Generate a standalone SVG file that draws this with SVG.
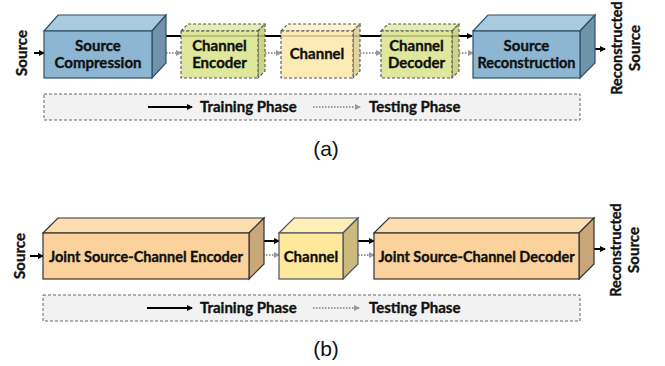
<svg xmlns="http://www.w3.org/2000/svg" width="665" height="366" viewBox="0 0 665 366">
<defs>
<style>
.lbl{font-family:Lato,"Open Sans","Liberation Sans",sans-serif;font-weight:bold;font-size:15px;fill:#111;stroke:#111;stroke-width:0.35;text-anchor:middle}
.lbl.sm{font-size:14.5px}
.leg{font-family:Lato,"Open Sans","Liberation Sans",sans-serif;font-weight:bold;font-size:15px;fill:#111;stroke:#111;stroke-width:0.35}
.cap{font-family:"Liberation Sans",Arial,sans-serif;font-size:21px;fill:#111;text-anchor:middle}
.blue .f{fill:#8cb6d2}.blue .t{fill:#a8cbe0}.blue .s{fill:#6e93ab}
.blue polygon,.blue rect{stroke:#2f4f66;stroke-width:1.2}
.green polygon,.green rect{stroke:#555;stroke-width:1.1;stroke-dasharray:3 2;fill-opacity:0.85}
.green .f{fill:#d8e38a}.green .t{fill:#e2eaa5}.green .s{fill:#c2cd72}
.yel polygon,.yel rect{stroke:#555;stroke-width:1.1;stroke-dasharray:3 2;fill-opacity:0.85}
.yel .f{fill:#fde7a8}.yel .t{fill:#feefc4}.yel .s{fill:#dccb8e}
.org polygon,.org rect{stroke:#333;stroke-width:1.2}
.org .f{fill:#fbd29b}.org .t{fill:#fcddb0}.org .s{fill:#c9a77a}
.chb polygon,.chb rect{stroke:#4a5060;stroke-width:1.2}
.chb .f{fill:#fde89c}.chb .t{fill:#feefb9}.chb .s{fill:#ccb97c}
.train{stroke:#000;stroke-width:2;fill:none;marker-end:url(#ab)}
.test{stroke:#999;stroke-width:2;stroke-dasharray:1.5 1.5;fill:none;marker-end:url(#ag)}
.legbox{fill:#f2f2f2;stroke:#666;stroke-width:1;stroke-dasharray:3 2}
</style>
<marker id="ab" markerWidth="6" markerHeight="6" refX="5" refY="3" orient="auto" markerUnits="userSpaceOnUse"><path d="M0,0 L6,3 L0,6 z" fill="#000"/></marker>
<marker id="ag" markerWidth="6" markerHeight="6" refX="5" refY="3" orient="auto" markerUnits="userSpaceOnUse"><path d="M0,0 L6,3 L0,6 z" fill="#999"/></marker>
</defs>
<rect width="665" height="366" fill="#fff"/>

<!-- (a) -->
<g id="connectors-a">
<line class="train" x1="166" y1="36" x2="472" y2="36"/>
<line class="train" x1="34" y1="53" x2="44" y2="53"/>
<line class="train" x1="588" y1="49" x2="605" y2="49"/>
<line class="test" x1="166" y1="53" x2="181" y2="53"/>
<line class="test" x1="265" y1="53" x2="281" y2="53"/>
<line class="test" x1="360" y1="53" x2="381" y2="53"/>
<line class="test" x1="459" y1="53" x2="473" y2="53"/>
</g>

<g id="source-compression" class="blue">
<polygon class="t" points="44,31 58,15 166,15 152,31"/>
<polygon class="s" points="152,31 166,15 166,63 152,78"/>
<rect class="f" x="44" y="31" width="108" height="47"/>
<text class="lbl" x="98" y="51">Source</text>
<text class="lbl" x="98" y="68">Compression</text>
</g>

<g id="channel-encoder" class="green">
<polygon class="t" points="181,31 188,24 265,24 258,31"/>
<polygon class="s" points="258,31 265,24 265,71 258,78"/>
<rect class="f" x="181" y="31" width="77" height="47"/>
<text class="lbl" x="219.5" y="51">Channel</text>
<text class="lbl" x="219.5" y="68">Encoder</text>
</g>

<g id="channel-a" class="yel">
<polygon class="t" points="281,31 288,24 360,24 353,31"/>
<polygon class="s" points="353,31 360,24 360,71 353,78"/>
<rect class="f" x="281" y="31" width="72" height="47"/>
<text class="lbl" x="317" y="59">Channel</text>
</g>

<g id="channel-decoder" class="green">
<polygon class="t" points="381,31 388,24 459,24 452,31"/>
<polygon class="s" points="452,31 459,24 459,71 452,78"/>
<rect class="f" x="381" y="31" width="71" height="47"/>
<text class="lbl" x="416.5" y="51">Channel</text>
<text class="lbl" x="416.5" y="68">Decoder</text>
</g>

<g id="source-reconstruction" class="blue">
<polygon class="t" points="473,31 488,15 595,15 580,31"/>
<polygon class="s" points="580,31 595,15 595,63 580,78"/>
<rect class="f" x="473" y="31" width="107" height="47"/>
<text class="lbl" x="526.5" y="51">Source</text>
<text class="lbl sm" x="526.5" y="68">Reconstruction</text>
</g>

<g id="source-a-label"><text class="lbl" transform="translate(27,53) rotate(-90)">Source</text></g>
<g id="recon-a-label">
<text class="lbl sm" transform="translate(622,48) rotate(-90)">Reconstructed</text>
<text class="lbl" transform="translate(640,48) rotate(-90)">Source</text>
</g>

<g id="legend-a">
<rect class="legbox" x="44" y="94" width="536" height="26"/>
<line class="train" x1="148" y1="107" x2="192" y2="107"/>
<text class="leg" x="200" y="112">Training Phase</text>
<line class="test" x1="313" y1="107" x2="360" y2="107"/>
<text class="leg" x="369" y="112">Testing Phase</text>
</g>
<text class="cap" x="326" y="156">(a)</text>

<!-- (b) -->
<g id="connectors-b">
<line class="train" x1="30" y1="256" x2="43" y2="256"/>
<line class="train" x1="263" y1="241" x2="279" y2="241"/>
<line class="test" x1="263" y1="255" x2="279" y2="255"/>
<line class="train" x1="352" y1="241" x2="374" y2="241"/>
<line class="test" x1="352" y1="255" x2="374" y2="255"/>
<line class="train" x1="587" y1="249" x2="605" y2="249"/>
</g>

<g id="jscc-encoder" class="org">
<polygon class="t" points="43,233 58,218 264,218 249,233"/>
<polygon class="s" points="249,233 264,218 264,264 249,279"/>
<rect class="f" x="43" y="233" width="206" height="46"/>
<text class="lbl sm" x="146" y="262">Joint Source-Channel Encoder</text>
</g>

<g id="channel-b" class="chb">
<polygon class="t" points="279,233 294,218 358,218 343,233"/>
<polygon class="s" points="343,233 358,218 358,264 343,279"/>
<rect class="f" x="279" y="233" width="64" height="46"/>
<text class="lbl" x="311" y="262">Channel</text>
</g>

<g id="jscc-decoder" class="org">
<polygon class="t" points="374,233 389,218 594,218 579,233"/>
<polygon class="s" points="579,233 594,218 594,264 579,279"/>
<rect class="f" x="374" y="233" width="205" height="46"/>
<text class="lbl sm" x="476.5" y="262">Joint Source-Channel Decoder</text>
</g>

<g id="source-b-label"><text class="lbl" transform="translate(25,256) rotate(-90)">Source</text></g>
<g id="recon-b-label">
<text class="lbl sm" transform="translate(621,250) rotate(-90)">Reconstructed</text>
<text class="lbl" transform="translate(639,250) rotate(-90)">Source</text>
</g>

<g id="legend-b">
<rect class="legbox" x="43" y="295" width="537" height="26"/>
<line class="train" x1="147" y1="308" x2="192" y2="308"/>
<text class="leg" x="200" y="313">Training Phase</text>
<line class="test" x1="313" y1="308" x2="359" y2="308"/>
<text class="leg" x="369" y="313">Testing Phase</text>
</g>
<text class="cap" x="326" y="356">(b)</text>
</svg>
